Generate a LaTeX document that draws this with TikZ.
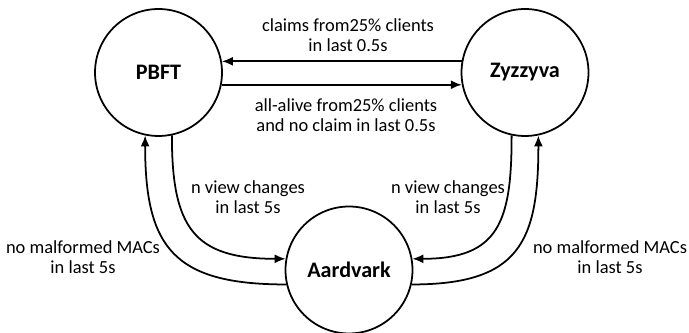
\documentclass[tikz,border=0pt]{standalone}
\usepackage{fontspec}
\setmainfont{Carlito}
\usetikzlibrary{arrows.meta}
\begin{document}
\begin{tikzpicture}[x=0.02cm, y=0.02cm]
	\tikzset{state/.style={draw, circle, line width=1pt, minimum size=2.54cm, inner sep=0pt, font=\bfseries\fontsize{12.6}{14}\selectfont}}
	\tikzset{trans/.style={line width=1pt, -{Latex[length=2.2mm,width=1.8mm]}}}
	\tikzset{cond/.style={align=center, font=\fontsize{10.5}{11.4}\selectfont}}
	\useasboundingbox (0,0) rectangle (689,333);
	\node[state] (pbft) at (158.5, 260.5) {PBFT};
	\node[state] (zyz) at (525, 260.5) {Zyzzyva};
	\node[state] (aard) at (349, 63) {Aardvark};
	\draw[trans] (zyz.170) -- (pbft.10);
	\draw[trans] (pbft.-11) -- (zyz.191);
	\draw[trans] (pbft.-78) to[out=-90, in=180, looseness=1.4] (aard.170);
	\draw[trans] (aard.193) to[out=180, in=-90, looseness=1.4] (pbft.-102);
	\draw[trans] (zyz.-102) to[out=-90, in=0, looseness=1.4] (aard.10);
	\draw[trans] (aard.-13) to[out=0, in=-90, looseness=1.4] (zyz.-78);
	\node[cond] (claims) at (348, 298) {claims from25\% clients\\in last 0.5s};
	\node[cond] (alive) at (346, 218) {all-alive from25\% clients\\and no claim in last 0.5s};
	\node[cond] (viewl) at (248, 136) {n view changes\\in last 5s};
	\node[cond] (viewr) at (448, 136) {n view changes\\in last 5s};
	\node[cond] (macl) at (83, 76) {no malformed MACs\\in last 5s};
	\node[cond] (macr) at (610, 76) {no malformed MACs\\in last 5s};
\end{tikzpicture}
\end{document}
